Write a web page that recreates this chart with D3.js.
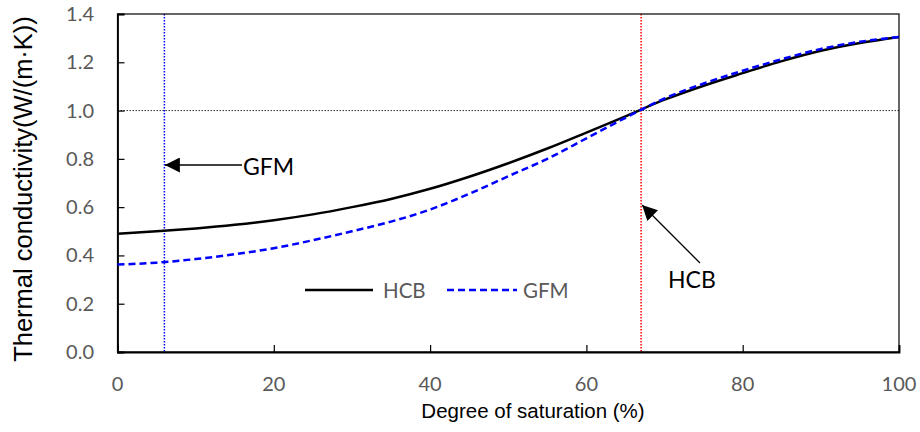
<!DOCTYPE html>
<html>
<head>
<meta charset="utf-8">
<script src="https://cdn.jsdelivr.net/npm/d3@7"></script>
<style>
  html, body { margin: 0; padding: 0; background: #fff; }
  svg { display: block; }
</style>
</head>
<body>
<svg id="chart" width="920" height="432"></svg>
<script>
// Degree of saturation (%)
const saturation = [0, 5, 10, 15, 20, 25, 30, 35, 40, 45, 50, 55, 60, 65, 70, 75, 80, 85, 90, 95, 100];
// Thermal conductivity, W/(m·K)
const hcbValues = [0.490, 0.500, 0.512, 0.527, 0.546, 0.570, 0.600, 0.634, 0.676, 0.726, 0.782, 0.843, 0.909, 0.976, 1.045, 1.103, 1.155, 1.205, 1.248, 1.280, 1.305];
const gfmValues = [0.362, 0.370, 0.385, 0.405, 0.430, 0.463, 0.500, 0.540, 0.590, 0.655, 0.728, 0.800, 0.885, 0.970, 1.050, 1.112, 1.165, 1.213, 1.255, 1.285, 1.305];
const seriesNames = ["HCB", "GFM"];
const xTicks = [0, 20, 40, 60, 80, 100];
const yTicks = [0.0, 0.2, 0.4, 0.6, 0.8, 1.0, 1.2, 1.4];
// reference markers: saturation of each material and the 1.0 level
const gfmMarkX = 6;
const hcbMarkX = 67;
const refLevel = 1.0;

const svg = d3.select("#chart");
const m = { left: 117.5, right: 899, top: 14, bottom: 352 };
const x = d3.scaleLinear().domain([0, 100]).range([m.left, m.right]);
const y = d3.scaleLinear().domain([0, 1.4]).range([m.bottom, m.top]);

const tickFont = "Lato, 'Open Sans', sans-serif";

// reference lines
svg.append("line")
  .attr("x1", x(0)).attr("x2", x(100)).attr("y1", y(refLevel)).attr("y2", y(refLevel))
  .attr("stroke", "#333").attr("stroke-width", 1).attr("stroke-dasharray", "1.5,1.5");
svg.append("line")
  .attr("x1", x(gfmMarkX)).attr("x2", x(gfmMarkX)).attr("y1", y(1.4)).attr("y2", y(0))
  .attr("stroke", "#0000ff").attr("stroke-width", 1.5).attr("stroke-dasharray", "1.5,1.5");
svg.append("line")
  .attr("x1", x(hcbMarkX)).attr("x2", x(hcbMarkX)).attr("y1", y(1.4)).attr("y2", y(0))
  .attr("stroke", "#ff0000").attr("stroke-width", 1.5).attr("stroke-dasharray", "1.5,1.5");

// plot frame
svg.append("rect")
  .attr("x", m.left).attr("y", m.top)
  .attr("width", m.right - m.left).attr("height", m.bottom - m.top)
  .attr("fill", "none").attr("stroke", "#000").attr("stroke-width", 1.2);

// axes with inward ticks
const xAxis = svg.append("g")
  .attr("transform", `translate(0,${m.bottom})`)
  .call(d3.axisTop(x).tickValues(xTicks).tickSize(7).tickFormat(""));
xAxis.select(".domain").attr("stroke", "#000").attr("stroke-width", 1.8);
xAxis.selectAll(".tick line").attr("stroke", "#000").attr("stroke-width", 1.2);

const yAxis = svg.append("g")
  .attr("transform", `translate(${m.left},0)`)
  .call(d3.axisRight(y).tickValues(yTicks).tickSize(7).tickFormat(""));
yAxis.select(".domain").attr("stroke", "#000").attr("stroke-width", 1.8);
yAxis.selectAll(".tick line").attr("stroke", "#000").attr("stroke-width", 1.2);

// tick labels
svg.append("g").selectAll("text").data(xTicks).join("text")
  .attr("x", d => x(d)).attr("y", 390.5)
  .attr("text-anchor", "middle")
  .attr("font-family", tickFont).attr("font-size", 20).attr("fill", "#595959")
  .text(d => d);
svg.append("g").selectAll("text").data(yTicks).join("text")
  .attr("x", 94).attr("y", d => y(d) + 7)
  .attr("text-anchor", "end")
  .attr("font-family", tickFont).attr("font-size", 20).attr("fill", "#595959")
  .text(d => d3.format(".1f")(d));

// axis titles
svg.append("text")
  .attr("x", 533).attr("y", 418)
  .attr("text-anchor", "middle")
  .attr("font-family", "'Liberation Sans', Arial, sans-serif").attr("font-size", 20.5).attr("fill", "#000")
  .text("Degree of saturation (%)");
svg.append("text")
  .attr("transform", "translate(32,189) rotate(-90)")
  .attr("text-anchor", "middle")
  .attr("font-family", "'Liberation Sans', Arial, sans-serif").attr("font-size", 25.5).attr("fill", "#000")
  .text("Thermal conductivity(W/(m·K))");

// curves
const hcbData = saturation.map((s, i) => [s, hcbValues[i]]);
const gfmData = saturation.map((s, i) => [s, gfmValues[i]]);
const line = d3.line().x(d => x(d[0])).y(d => y(d[1])).curve(d3.curveMonotoneX);

svg.append("path").datum(hcbData).attr("d", line)
  .attr("fill", "none").attr("stroke", "#000").attr("stroke-width", 2.5);
svg.append("path").datum(gfmData).attr("d", line)
  .attr("fill", "none").attr("stroke", "#0000ff").attr("stroke-width", 2.5)
  .attr("stroke-dasharray", "7,4");

// legend
const legend = svg.append("g");
legend.append("line").attr("x1", 305).attr("x2", 373).attr("y1", 290).attr("y2", 290)
  .attr("stroke", "#000").attr("stroke-width", 2.5);
legend.append("text").attr("x", 383).attr("y", 297.5)
  .attr("font-family", tickFont).attr("font-size", 20.5).attr("fill", "#595959").text(seriesNames[0]);
legend.append("line").attr("x1", 447).attr("x2", 517).attr("y1", 290).attr("y2", 290)
  .attr("stroke", "#0000ff").attr("stroke-width", 2.5).attr("stroke-dasharray", "7,4");
legend.append("text").attr("x", 523).attr("y", 297.5)
  .attr("font-family", tickFont).attr("font-size", 20.5).attr("fill", "#595959").text(seriesNames[1]);

// annotation arrows
svg.append("defs").append("marker")
  .attr("id", "arrowHead")
  .attr("viewBox", "0 0 10 10")
  .attr("refX", 10).attr("refY", 5)
  .attr("markerWidth", 16).attr("markerHeight", 15)
  .attr("markerUnits", "userSpaceOnUse")
  .attr("orient", "auto")
  .append("path").attr("d", "M0,0 L10,5 L0,10 Z").attr("fill", "#000");

svg.append("line")
  .attr("x1", 242).attr("y1", 165).attr("x2", x(gfmMarkX) + 0.5).attr("y2", 165)
  .attr("stroke", "#000").attr("stroke-width", 1.3).attr("marker-end", "url(#arrowHead)");
svg.append("text").attr("x", 243).attr("y", 175)
  .attr("font-family", tickFont).attr("font-size", 23).attr("fill", "#000").text(seriesNames[1]);

svg.append("line")
  .attr("x1", 700).attr("y1", 263).attr("x2", x(hcbMarkX) + 1).attr("y2", 205)
  .attr("stroke", "#000").attr("stroke-width", 1.3).attr("marker-end", "url(#arrowHead)");
svg.append("text").attr("x", 668).attr("y", 288)
  .attr("font-family", tickFont).attr("font-size", 23).attr("fill", "#000").text(seriesNames[0]);
</script>
</body>
</html>
